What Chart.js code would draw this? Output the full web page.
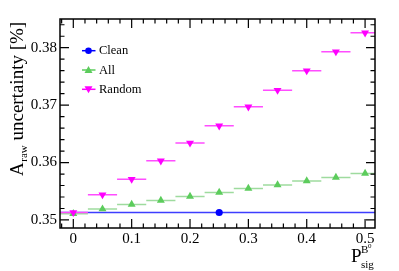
<!DOCTYPE html>
<html>
<head>
<meta charset="utf-8">
<script src="https://cdn.jsdelivr.net/npm/chart.js@4.4.1/dist/chart.umd.min.js"></script>
<style>
  html, body { margin: 0; padding: 0; background: #fff; }
  #wrap { width: 399px; height: 271px; }
</style>
</head>
<body>
<div id="wrap"><canvas id="uncChart" width="399" height="271"></canvas></div>
<script>
// P_sig values (bin centres) and uncertainties [%]
var pSig = [0, 0.05, 0.1, 0.15, 0.2, 0.25, 0.3, 0.35, 0.4, 0.45, 0.5];
var randomUnc = [0.3513, 0.3544, 0.3571, 0.3603, 0.3634, 0.3664, 0.3697, 0.3726, 0.3760, 0.3793, 0.3826];
var allUnc = [0.3511, 0.3519, 0.3527, 0.3534, 0.3541, 0.3548, 0.3555, 0.3561, 0.3568, 0.3574, 0.3581];
var cleanX = [0.25];
var cleanUnc = [0.3513];
var cleanXErr = [0.275];
var binHalf = 0.025;
var xTicks = [0, 0.1, 0.2, 0.3, 0.4, 0.5];
var yTicks = [0.35, 0.36, 0.37, 0.38];

var serif = "'Liberation Serif', 'DejaVu Serif', serif";
var blue = '#0000ff', green = '#5ccc5c', magenta = '#ff00ff';

function pts(xs, ys) {
    return xs.map(function (x, i) { return { x: x, y: ys[i] }; });
}
function xbars(xs, ys, errs) {
    var out = [];
    xs.forEach(function (x, i) {
        var e = Array.isArray(errs) ? errs[i] : errs;
        out.push({ x: x - e, y: ys[i] }, { x: x + e, y: ys[i] }, { x: x, y: null });
    });
    return out;
}

// frame, inward ticks, titles and legend in ROOT style
var rootStyle = {
    id: 'rootStyle',
    afterDraw: function (chart) {
        var c = chart.ctx, a = chart.chartArea;
        var xs = chart.scales.x, ys = chart.scales.y;
        c.save();
        c.strokeStyle = '#000';
        c.lineWidth = 1.5;
        c.strokeRect(a.left, a.top, a.right - a.left, a.bottom - a.top);
        c.lineWidth = 1.2;
        c.beginPath();
        // y ticks every 0.002, major every 0.01
        for (var k = 0; k <= 20; k++) {
            var v = 0.35 + k * 0.002 - 0.002;
            if (v < ys.min || v > ys.max) continue;
            var py = ys.getPixelForValue(v);
            var len = (k - 1) % 5 === 0 ? 9 : 4.5;
            c.moveTo(a.left, py); c.lineTo(a.left + len, py);
            c.moveTo(a.right, py); c.lineTo(a.right - len, py);
        }
        // x ticks every 0.02, major every 0.1
        for (var j = -1; j <= 26; j++) {
            var u = j * 0.02;
            if (u < xs.min || u > xs.max) continue;
            var px = xs.getPixelForValue(u);
            var l2 = j % 5 === 0 ? 9 : 4.5;
            c.moveTo(px, a.bottom); c.lineTo(px, a.bottom - l2);
            c.moveTo(px, a.top); c.lineTo(px, a.top + l2);
        }
        c.stroke();

        // y title
        c.fillStyle = '#000';
        c.save();
        c.translate(23, 176);
        c.rotate(-Math.PI / 2);
        c.textBaseline = 'alphabetic';
        c.textAlign = 'left';
        c.font = '19px ' + serif;
        c.fillText('A', 0, 0);
        var w = c.measureText('A').width;
        c.font = '11px ' + serif;
        c.fillText('raw', w + 0.5, 4);
        w += 0.5 + c.measureText('raw').width;
        c.font = '19px ' + serif;
        c.fillText(' uncertainty [%]', w, 0);
        c.restore();

        // x title
        c.font = '19px ' + serif;
        c.fillText('P', 351, 262);
        c.font = '11px ' + serif;
        c.fillText('B', 361, 253);
        c.fillText('sig', 361, 267.5);
        c.font = '7px ' + serif;
        c.fillText('0', 368, 247.5);

        // legend
        var rows = [
            { label: 'Clean', col: blue, shape: 'circle' },
            { label: 'All', col: green, shape: 'up' },
            { label: 'Random', col: magenta, shape: 'down' }
        ];
        rows.forEach(function (r, i) {
            var y = 50.7 + i * 19.3, x = 88.5;
            c.strokeStyle = r.col;
            c.lineWidth = 1.5;
            c.beginPath(); c.moveTo(82, y); c.lineTo(95.5, y); c.stroke();
            c.fillStyle = r.col;
            c.beginPath();
            if (r.shape === 'circle') {
                c.arc(x, y, 3.3, 0, Math.PI * 2);
            } else if (r.shape === 'up') {
                c.moveTo(x - 4, y + 3); c.lineTo(x + 4, y + 3); c.lineTo(x, y - 4);
            } else {
                c.moveTo(x - 4, y - 3); c.lineTo(x + 4, y - 3); c.lineTo(x, y + 4);
            }
            c.closePath(); c.fill();
            c.fillStyle = '#000';
            c.font = '12.5px ' + serif;
            c.textBaseline = 'middle';
            c.fillText(r.label, 99, y + 0.5);
        });
        c.restore();
    }
};

var ctx = document.getElementById('uncChart').getContext('2d');
var uncChart = new Chart(ctx, {
    type: 'scatter',
    data: {
        datasets: [
            { label: 'Clean bar', data: xbars(cleanX, cleanUnc, cleanXErr), showLine: true,
              borderColor: '#3d3dff', borderWidth: 1.3, pointRadius: 0, spanGaps: false, order: 6 },
            { label: 'All bar', data: xbars(pSig, allUnc, binHalf), showLine: true,
              borderColor: '#9edb9e', borderWidth: 1.5, pointRadius: 0, spanGaps: false, order: 5 },
            { label: 'Random bar', data: xbars(pSig, randomUnc, binHalf), showLine: true,
              borderColor: '#ff4dff', borderWidth: 1.5, pointRadius: 0, spanGaps: false, order: 4 },
            { label: 'Clean', data: pts(cleanX, cleanUnc), pointStyle: 'circle', pointRadius: 3.6,
              backgroundColor: blue, borderColor: blue, borderWidth: 0, order: 3 },
            { label: 'All', data: pts(pSig, allUnc), pointStyle: 'triangle', pointRadius: 4.6,
              backgroundColor: green, borderColor: green, borderWidth: 0, order: 2 },
            { label: 'Random', data: pts(pSig, randomUnc), pointStyle: 'triangle', rotation: 180, pointRadius: 4.6,
              backgroundColor: magenta, borderColor: magenta, borderWidth: 0, order: 1 }
        ]
    },
    options: {
        responsive: false,
        animation: false,
        devicePixelRatio: 1,
        layout: { padding: { left: 0, right: 24, top: 19, bottom: 0 } },
        plugins: { legend: { display: false }, tooltip: { enabled: false } },
        scales: {
            x: {
                type: 'linear', min: -0.0228, max: 0.517,
                afterFit: function (s) { s.height = 43; },
                afterBuildTicks: function (s) { s.ticks = xTicks.map(function (v) { return { value: v }; }); },
                grid: { display: false, drawTicks: false },
                border: { display: false },
                ticks: { color: '#000', padding: 2, font: { family: serif, size: 15 },
                         callback: function (v) { return String(Math.round(v * 10) / 10); } }
            },
            y: {
                type: 'linear', min: 0.3486, max: 0.385,
                afterFit: function (s) { s.width = 60; },
                afterBuildTicks: function (s) { s.ticks = yTicks.map(function (v) { return { value: v }; }); },
                grid: { display: false, drawTicks: false },
                border: { display: false },
                ticks: { color: '#000', padding: 3, font: { family: serif, size: 15 },
                         callback: function (v) { return v.toFixed(2); } }
            }
        }
    },
    plugins: [rootStyle]
});
</script>
</body>
</html>
